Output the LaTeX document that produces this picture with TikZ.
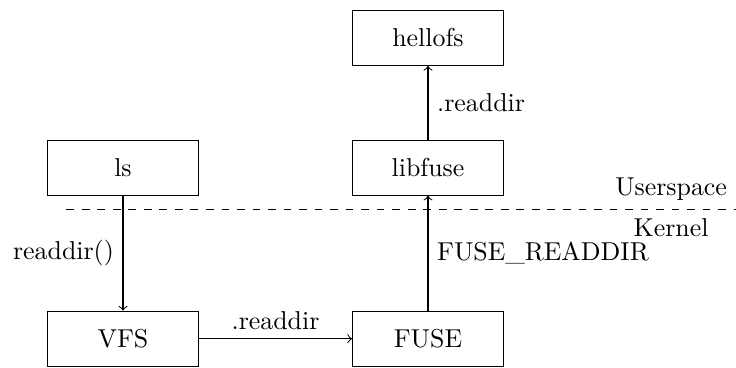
\documentclass[tikz,border=0pt]{standalone}
\usepackage{tikz}
\usetikzlibrary{positioning}

\begin{document}
\begin{tikzpicture}[node distance=1.56cm, b/.style={rectangle, draw, minimum width=2.05cm, minimum height=0.75cm}, a/.style={->}]
		\useasboundingbox (-1.671,-0.385) rectangle (8.329,4.602);
		\node[b] (VFS) {VFS};
		\node[b, above=of VFS] (ls) {ls};
		\node[b, right=2.08cm of VFS] (FUSE) {FUSE};
		\node[b, above=of FUSE] (libfuse) {libfuse};
		\node[b, above=1.0cm of libfuse] (hellofs) {hellofs};

		\coordinate (sepL) at (-0.77,1.76);
		\coordinate (sepR) at (8.33,1.76);
		\draw[dashed] (sepL) -- (sepR);
		\node[above left] (user) at (sepR) {Userspace};
		\node[below left] (kernel) at (8.08,1.76) {Kernel};

		\path[a] (ls) edge node[left] {readdir()} (VFS);
		\path[a] (VFS) edge node[above] {.readdir} (FUSE);
		\path[a] (FUSE) edge node[right] {FUSE\_READDIR} (libfuse);
		\path[a] (libfuse) edge node[right] {.readdir} (hellofs);
	\end{tikzpicture}
\end{document}
